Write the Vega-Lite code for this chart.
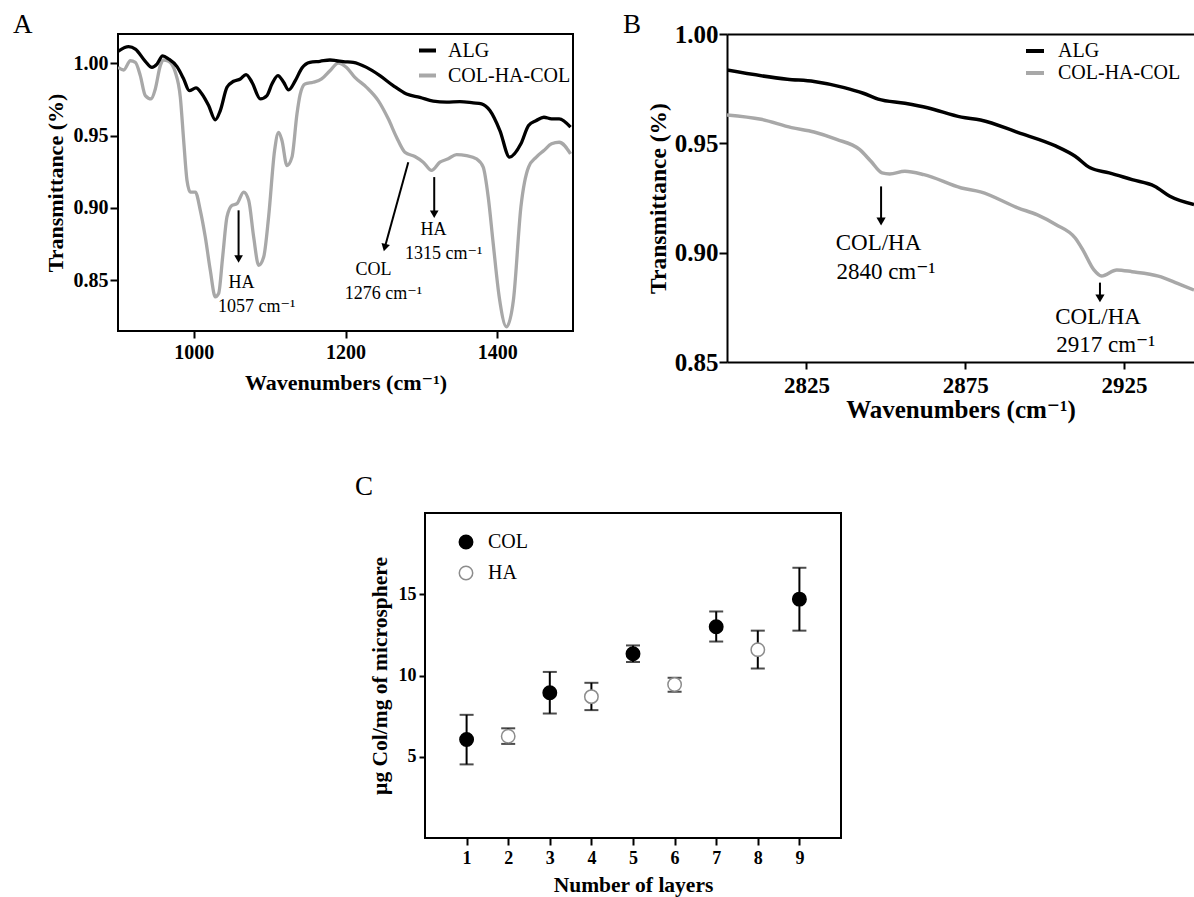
{
"$schema": "https://vega.github.io/schema/vega-lite/v6.json",
"background": "white",
"autosize": {"type": "pad"},
"padding": {"left": 11, "top": 10, "right": 0, "bottom": 0},
"config": {
  "font": "Liberation Serif, DejaVu Serif",
  "view": {"stroke": "black", "strokeWidth": 2},
  "axis": {"labelFont": "Liberation Serif, DejaVu Serif", "titleFont": "Liberation Serif, DejaVu Serif", "labelFontWeight": "bold", "titleFontWeight": "bold", "labelColor": "black", "titleColor": "black", "tickColor": "black", "tickWidth": 2, "domain": false, "grid": false, "labelFlush": false, "labelOverlap": false, "labelBound": false},
  "legend": {"labelFont": "Liberation Serif, DejaVu Serif", "labelColor": "black", "padding": 0}
},
"datasets": {
  "specA": [
    {"s":"COL-HA-COL","x":900,"y":0.9972},{"s":"COL-HA-COL","x":907.5,"y":0.9954},{"s":"COL-HA-COL","x":916.3,"y":1.0018},{"s":"COL-HA-COL","x":922.9,"y":1.0007},{"s":"COL-HA-COL","x":929.4,"y":0.9915},{"s":"COL-HA-COL","x":936,"y":0.9777},{"s":"COL-HA-COL","x":943.9,"y":0.9754},{"s":"COL-HA-COL","x":949.2,"y":0.9823},{"s":"COL-HA-COL","x":955.8,"y":0.9984},{"s":"COL-HA-COL","x":960.2,"y":1.0023},{"s":"COL-HA-COL","x":966.8,"y":1.0014},{"s":"COL-HA-COL","x":975.6,"y":0.9938},{"s":"COL-HA-COL","x":982.2,"y":0.9765},{"s":"COL-HA-COL","x":986.6,"y":0.9466},{"s":"COL-HA-COL","x":991,"y":0.919},{"s":"COL-HA-COL","x":995.4,"y":0.9109},{"s":"COL-HA-COL","x":1002,"y":0.9109},{"s":"COL-HA-COL","x":1008.5,"y":0.8983},{"s":"COL-HA-COL","x":1015.1,"y":0.8798},{"s":"COL-HA-COL","x":1021.7,"y":0.8568},{"s":"COL-HA-COL","x":1028.3,"y":0.8384},{"s":"COL-HA-COL","x":1032.7,"y":0.8407},{"s":"COL-HA-COL","x":1038,"y":0.866},{"s":"COL-HA-COL","x":1043.7,"y":0.8937},{"s":"COL-HA-COL","x":1050.3,"y":0.9017},{"s":"COL-HA-COL","x":1056.9,"y":0.9029},{"s":"COL-HA-COL","x":1065.7,"y":0.9109},{"s":"COL-HA-COL","x":1072.3,"y":0.9052},{"s":"COL-HA-COL","x":1078.9,"y":0.8798},{"s":"COL-HA-COL","x":1085.5,"y":0.8603},{"s":"COL-HA-COL","x":1092.1,"y":0.866},{"s":"COL-HA-COL","x":1098.6,"y":0.8937},{"s":"COL-HA-COL","x":1106.5,"y":0.9397},{"s":"COL-HA-COL","x":1111.8,"y":0.9523},{"s":"COL-HA-COL","x":1116.2,"y":0.9466},{"s":"COL-HA-COL","x":1122.8,"y":0.9293},{"s":"COL-HA-COL","x":1129.4,"y":0.9351},{"s":"COL-HA-COL","x":1136,"y":0.965},{"s":"COL-HA-COL","x":1140,"y":0.978},{"s":"COL-HA-COL","x":1146.5,"y":0.9857},{"s":"COL-HA-COL","x":1157.5,"y":0.9869},{"s":"COL-HA-COL","x":1168.5,"y":0.9892},{"s":"COL-HA-COL","x":1179.5,"y":0.9949},{"s":"COL-HA-COL","x":1190.4,"y":1.0002},{"s":"COL-HA-COL","x":1201.4,"y":0.9972},{"s":"COL-HA-COL","x":1212.4,"y":0.9903},{"s":"COL-HA-COL","x":1227.8,"y":0.9834},{"s":"COL-HA-COL","x":1243.2,"y":0.9742},{"s":"COL-HA-COL","x":1256.4,"y":0.9616},{"s":"COL-HA-COL","x":1267.3,"y":0.9489},{"s":"COL-HA-COL","x":1278.3,"y":0.9385},{"s":"COL-HA-COL","x":1291.5,"y":0.9355},{"s":"COL-HA-COL","x":1302.5,"y":0.9316},{"s":"COL-HA-COL","x":1313.5,"y":0.9259},{"s":"COL-HA-COL","x":1324.5,"y":0.9316},{"s":"COL-HA-COL","x":1335.5,"y":0.9339},{"s":"COL-HA-COL","x":1346.4,"y":0.9369},{"s":"COL-HA-COL","x":1359.6,"y":0.9362},{"s":"COL-HA-COL","x":1372.8,"y":0.9339},{"s":"COL-HA-COL","x":1381.6,"y":0.9282},{"s":"COL-HA-COL","x":1388.2,"y":0.9075},{"s":"COL-HA-COL","x":1394.8,"y":0.8752},{"s":"COL-HA-COL","x":1402.7,"y":0.8384},{"s":"COL-HA-COL","x":1412.3,"y":0.8177},{"s":"COL-HA-COL","x":1421.4,"y":0.8361},{"s":"COL-HA-COL","x":1431.3,"y":0.9006},{"s":"COL-HA-COL","x":1441.4,"y":0.9282},{"s":"COL-HA-COL","x":1451.6,"y":0.9351},{"s":"COL-HA-COL","x":1461.6,"y":0.9397},{"s":"COL-HA-COL","x":1471.7,"y":0.9443},{"s":"COL-HA-COL","x":1481.8,"y":0.9454},{"s":"COL-HA-COL","x":1496.8,"y":0.9374},
    {"s":"ALG","x":900,"y":1.0083},{"s":"ALG","x":914,"y":1.0115},{"s":"ALG","x":922.9,"y":1.0099},{"s":"ALG","x":936,"y":1.0014},{"s":"ALG","x":944.8,"y":0.9972},{"s":"ALG","x":951.4,"y":0.9995},{"s":"ALG","x":958.9,"y":1.0051},{"s":"ALG","x":966.8,"y":1.003},{"s":"ALG","x":977.8,"y":0.9977},{"s":"ALG","x":986.6,"y":0.9892},{"s":"ALG","x":994,"y":0.9811},{"s":"ALG","x":1002.8,"y":0.983},{"s":"ALG","x":1010.7,"y":0.9788},{"s":"ALG","x":1019.5,"y":0.9708},{"s":"ALG","x":1028.3,"y":0.9609},{"s":"ALG","x":1034.9,"y":0.9673},{"s":"ALG","x":1043.7,"y":0.9834},{"s":"ALG","x":1052.5,"y":0.9876},{"s":"ALG","x":1061.3,"y":0.9892},{"s":"ALG","x":1068.8,"y":0.9922},{"s":"ALG","x":1076.7,"y":0.9869},{"s":"ALG","x":1087.7,"y":0.9754},{"s":"ALG","x":1096.4,"y":0.9777},{"s":"ALG","x":1103,"y":0.9857},{"s":"ALG","x":1110.9,"y":0.9915},{"s":"ALG","x":1118.4,"y":0.9869},{"s":"ALG","x":1125,"y":0.9816},{"s":"ALG","x":1133.8,"y":0.988},{"s":"ALG","x":1142.6,"y":0.9968},{"s":"ALG","x":1153.1,"y":1.0007},{"s":"ALG","x":1166.3,"y":1.0014},{"s":"ALG","x":1179.5,"y":1.0023},{"s":"ALG","x":1188.2,"y":1.0018},{"s":"ALG","x":1197,"y":1.0012},{"s":"ALG","x":1210.2,"y":1.0007},{"s":"ALG","x":1227.8,"y":0.9972},{"s":"ALG","x":1245.4,"y":0.9915},{"s":"ALG","x":1262.9,"y":0.9846},{"s":"ALG","x":1280.5,"y":0.9788},{"s":"ALG","x":1298.1,"y":0.9765},{"s":"ALG","x":1315.7,"y":0.9738},{"s":"ALG","x":1333.3,"y":0.9731},{"s":"ALG","x":1350.8,"y":0.9735},{"s":"ALG","x":1368.4,"y":0.9726},{"s":"ALG","x":1379.4,"y":0.9719},{"s":"ALG","x":1390.4,"y":0.9673},{"s":"ALG","x":1403.6,"y":0.9535},{"s":"ALG","x":1416.3,"y":0.9351},{"s":"ALG","x":1431.3,"y":0.9443},{"s":"ALG","x":1441.4,"y":0.957},{"s":"ALG","x":1451.6,"y":0.9604},{"s":"ALG","x":1461.6,"y":0.9627},{"s":"ALG","x":1471.7,"y":0.9616},{"s":"ALG","x":1481.8,"y":0.9616},{"s":"ALG","x":1496.8,"y":0.9558}
  ],
  "annAtext": [
    {"x":1063,"y":0.8477,"t":"HA"},{"x":1083,"y":0.8315,"t":"1057 cm⁻¹"},
    {"x":1237,"y":0.8568,"t":"COL"},{"x":1250,"y":0.8407,"t":"1276 cm⁻¹"},
    {"x":1316,"y":0.8845,"t":"HA"},{"x":1329.5,"y":0.8679,"t":"1315 cm⁻¹"}
  ],
  "annArule": [
    {"x":1059,"y":0.8983,"x2":1059,"y2":0.8646},
    {"x":1282.8,"y":0.9316,"x2":1251.8,"y2":0.8725},
    {"x":1317,"y":0.9213,"x2":1317,"y2":0.8956}
  ],
  "annAhead": [
    {"x":1059,"y":0.8646,"a":0},
    {"x":1251.8,"y":0.8725,"a":14.5},
    {"x":1317,"y":0.8956,"a":0}
  ],
  "specB": [
    {"s":"COL-HA-COL","x":2800,"y":0.963},{"s":"COL-HA-COL","x":2810.7,"y":0.961},{"s":"COL-HA-COL","x":2820.3,"y":0.9572},{"s":"COL-HA-COL","x":2827.4,"y":0.9552},{"s":"COL-HA-COL","x":2834.5,"y":0.9518},{"s":"COL-HA-COL","x":2841.7,"y":0.9472},{"s":"COL-HA-COL","x":2845.3,"y":0.9418},{"s":"COL-HA-COL","x":2848.8,"y":0.9365},{"s":"COL-HA-COL","x":2851.2,"y":0.936},{"s":"COL-HA-COL","x":2856,"y":0.9372},{"s":"COL-HA-COL","x":2862,"y":0.9357},{"s":"COL-HA-COL","x":2873.8,"y":0.9296},{"s":"COL-HA-COL","x":2879.8,"y":0.9278},{"s":"COL-HA-COL","x":2891.7,"y":0.9204},{"s":"COL-HA-COL","x":2897.7,"y":0.9173},{"s":"COL-HA-COL","x":2903.6,"y":0.9128},{"s":"COL-HA-COL","x":2909.6,"y":0.9067},{"s":"COL-HA-COL","x":2912,"y":0.9013},{"s":"COL-HA-COL","x":2915.5,"y":0.8921},{"s":"COL-HA-COL","x":2917.9,"y":0.8893},{"s":"COL-HA-COL","x":2922.7,"y":0.8921},{"s":"COL-HA-COL","x":2927.5,"y":0.8913},{"s":"COL-HA-COL","x":2935.8,"y":0.8893},{"s":"COL-HA-COL","x":2941.8,"y":0.886},{"s":"COL-HA-COL","x":2947,"y":0.8829},
    {"s":"ALG","x":2800,"y":0.9835},{"s":"ALG","x":2819,"y":0.9793},{"s":"ALG","x":2827.4,"y":0.9783},{"s":"ALG","x":2836.9,"y":0.9755},{"s":"ALG","x":2842.9,"y":0.9729},{"s":"ALG","x":2847.6,"y":0.9702},{"s":"ALG","x":2856,"y":0.9683},{"s":"ALG","x":2863.1,"y":0.9663},{"s":"ALG","x":2873.8,"y":0.962},{"s":"ALG","x":2879.8,"y":0.9607},{"s":"ALG","x":2891.7,"y":0.9549},{"s":"ALG","x":2903.6,"y":0.9487},{"s":"ALG","x":2909.6,"y":0.9441},{"s":"ALG","x":2914.3,"y":0.9388},{"s":"ALG","x":2920.3,"y":0.9365},{"s":"ALG","x":2927.5,"y":0.9334},{"s":"ALG","x":2934.6,"y":0.9304},{"s":"ALG","x":2939.4,"y":0.9258},{"s":"ALG","x":2947,"y":0.922}
  ],
  "annBtext": [
    {"x":2847.7,"y":0.9046,"t":"COL/HA"},{"x":2850,"y":0.8913,"t":"2840 cm⁻¹"},
    {"x":2916.8,"y":0.8707,"t":"COL/HA"},{"x":2919.2,"y":0.8577,"t":"2917 cm⁻¹"}
  ],
  "annBrule": [
    {"x":2848.5,"y":0.9303,"x2":2848.5,"y2":0.9143},
    {"x":2917.4,"y":0.8863,"x2":2917.4,"y2":0.8791}
  ],
  "annBhead": [
    {"x":2848.5,"y":0.9143,"a":0},
    {"x":2917.4,"y":0.8791,"a":0}
  ],
  "layersC": [
    {"n":1,"v":6.06,"lo":4.53,"hi":7.58,"g":"COL"},
    {"n":2,"v":6.26,"lo":5.79,"hi":6.75,"g":"HA"},
    {"n":3,"v":8.94,"lo":7.66,"hi":10.22,"g":"COL"},
    {"n":4,"v":8.70,"lo":7.87,"hi":9.55,"g":"HA"},
    {"n":5,"v":11.34,"lo":10.83,"hi":11.85,"g":"COL"},
    {"n":6,"v":9.45,"lo":9.0,"hi":9.86,"g":"HA"},
    {"n":7,"v":13.0,"lo":12.09,"hi":13.94,"g":"COL"},
    {"n":8,"v":11.59,"lo":10.43,"hi":12.76,"g":"HA"},
    {"n":9,"v":14.7,"lo":12.76,"hi":16.63,"g":"COL"}
  ],
  "spacer": [{"k": 1}]
},
"resolve": {"scale": {"color": "independent", "fill": "independent", "stroke": "independent"}, "legend": {"color": "independent", "fill": "independent", "stroke": "independent"}},
"bounds": "full",
"spacing": 49,
"vconcat": [
  {
    "bounds": "flush",
    "spacing": 154,
    "resolve": {"scale": {"color": "independent"}, "legend": {"color": "independent"}},
    "hconcat": [
      {
        "width": 455, "height": 297,
        "layer": [
          {
            "data": {"name": "specA"},
            "mark": {"type": "line", "strokeWidth": 3.3, "clip": true, "interpolate": "monotone"},
            "encoding": {
              "x": {"field": "x", "type": "quantitative", "scale": {"domain": [900, 1500], "nice": false, "zero": false},
                    "axis": {"values": [1000, 1200, 1400], "format": "d", "title": "Wavenumbers (cm⁻¹)", "labelFontSize": 20, "titleFontSize": 22, "tickSize": 7, "labelPadding": 4, "titlePadding": 10}},
              "y": {"field": "y", "type": "quantitative", "scale": {"domain": [0.8148, 1.0203], "nice": false, "zero": false},
                    "axis": {"values": [0.85, 0.9, 0.95, 1.0], "format": ".2f", "title": "Transmittance (%)", "labelFontSize": 20, "titleFontSize": 22, "tickSize": 8, "labelPadding": 2, "titlePadding": 6}},
              "color": {"field": "s", "type": "nominal",
                        "scale": {"domain": ["ALG", "COL-HA-COL"], "range": ["#000000", "#a8a8a8"]},
                        "legend": {"title": null, "orient": "none", "legendX": 299, "legendY": 6, "symbolType": "stroke", "symbolSize": 289, "symbolStrokeWidth": 4, "labelFontSize": 20, "labelOffset": 10, "rowPadding": 4}}
            }
          },
          {
            "data": {"name": "annArule"},
            "mark": {"type": "rule", "strokeWidth": 2, "color": "black"},
            "encoding": {"x": {"field": "x", "type": "quantitative"}, "y": {"field": "y", "type": "quantitative"}, "x2": {"field": "x2"}, "y2": {"field": "y2"}}
          },
          {
            "data": {"name": "annAhead"},
            "mark": {"type": "point", "shape": "triangle-down", "filled": true, "color": "black", "size": 75, "opacity": 1},
            "encoding": {"x": {"field": "x", "type": "quantitative"}, "y": {"field": "y", "type": "quantitative"}, "angle": {"field": "a", "type": "quantitative", "scale": null}}
          },
          {
            "data": {"name": "annAtext"},
            "mark": {"type": "text", "fontSize": 18, "color": "black", "baseline": "middle", "align": "center"},
            "encoding": {"x": {"field": "x", "type": "quantitative"}, "y": {"field": "y", "type": "quantitative"}, "text": {"field": "t"}}
          },
          {
            "data": {"values": [{"k": "A"}]},
            "mark": {"type": "text", "fontSize": 27, "color": "black", "baseline": "alphabetic", "align": "left", "clip": false},
            "encoding": {"x": {"datum": 761.5, "type": "quantitative"}, "y": {"datum": 1.0207, "type": "quantitative"}, "text": {"field": "k"}}
          }
        ]
      },
      {
        "width": 467, "height": 328,
        "view": {"stroke": null},
        "resolve": {"axis": {"x": "independent"}},
        "layer": [
          {
            "data": {"name": "specB"},
            "mark": {"type": "line", "strokeWidth": 3.5, "clip": true, "interpolate": "monotone"},
            "encoding": {
              "x": {"field": "x", "type": "quantitative", "scale": {"domain": [2800, 2947], "nice": false, "zero": false},
                    "axis": {"orient": "bottom", "values": [2825, 2875, 2925], "format": "d", "title": "Wavenumbers (cm⁻¹)", "labelFontSize": 23, "titleFontSize": 25, "tickSize": 7, "labelPadding": 5, "titlePadding": 0, "domain": true, "domainWidth": 2, "domainColor": "black"}},
              "y": {"field": "y", "type": "quantitative", "scale": {"domain": [0.85, 1.0], "nice": false, "zero": false},
                    "axis": {"values": [0.85, 0.9, 0.95, 1.0], "format": ".2f", "title": "Transmittance (%)", "labelFontSize": 25, "titleFontSize": 23.5, "tickSize": 8, "labelPadding": 1, "titlePadding": 4, "domain": true, "domainWidth": 2, "domainColor": "black"}},
              "color": {"field": "s", "type": "nominal",
                        "scale": {"domain": ["ALG", "COL-HA-COL"], "range": ["#000000", "#a8a8a8"]},
                        "legend": {"title": null, "orient": "none", "legendX": 297, "legendY": 6, "symbolType": "stroke", "symbolSize": 324, "symbolStrokeWidth": 4, "labelFontSize": 20, "labelOffset": 12, "rowPadding": 1}}
            }
          },
          {
            "data": {"name": "annBrule"},
            "mark": {"type": "rule", "strokeWidth": 2, "color": "black"},
            "encoding": {"x": {"field": "x", "type": "quantitative", "axis": null}, "y": {"field": "y", "type": "quantitative"}, "x2": {"field": "x2"}, "y2": {"field": "y2"}}
          },
          {
            "data": {"name": "annBhead"},
            "mark": {"type": "point", "shape": "triangle-down", "filled": true, "color": "black", "size": 85, "opacity": 1},
            "encoding": {"x": {"field": "x", "type": "quantitative", "axis": null}, "y": {"field": "y", "type": "quantitative"}, "angle": {"field": "a", "type": "quantitative", "scale": null}}
          },
          {
            "data": {"name": "annBtext"},
            "mark": {"type": "text", "fontSize": 23, "color": "black", "baseline": "middle", "align": "center"},
            "encoding": {"x": {"field": "x", "type": "quantitative", "axis": null}, "y": {"field": "y", "type": "quantitative"}, "text": {"field": "t"}}
          },
          {
            "data": {"values": [{"k": "B"}]},
            "mark": {"type": "text", "fontSize": 27, "color": "black", "baseline": "alphabetic", "align": "left", "clip": false},
            "encoding": {"x": {"datum": 2767.3, "type": "quantitative", "axis": {"orient": "top", "labels": false, "ticks": false, "title": null, "domain": true, "domainWidth": 2, "domainColor": "black"}}, "y": {"datum": 1.0005, "type": "quantitative"}, "text": {"field": "k"}}
          }
        ]
      }
    ]
  },
  {
    "bounds": "flush",
    "spacing": 107,
    "resolve": {"scale": {"fill": "independent", "stroke": "independent"}, "legend": {"fill": "independent", "stroke": "independent"}},
    "hconcat": [
      {
        "data": {"name": "spacer"},
        "width": 200, "height": 10,
        "view": {"stroke": null},
        "mark": {"type": "point", "opacity": 0},
        "encoding": {}
      },
      {
        "width": 416, "height": 325,
        "data": {"name": "layersC"},
        "layer": [
          {
            "mark": {"type": "rule", "strokeWidth": 2, "color": "black"},
            "encoding": {
              "x": {"field": "n", "type": "quantitative", "scale": {"domain": [0, 10], "nice": false, "zero": false},
                    "axis": {"values": [1, 2, 3, 4, 5, 6, 7, 8, 9], "format": "d", "title": "Number of layers", "labelFontSize": 18, "titleFontSize": 21.5, "tickSize": 7, "labelPadding": 4, "titlePadding": 7}},
              "y": {"field": "lo", "type": "quantitative", "scale": {"domain": [0, 20], "nice": false, "zero": false},
                    "axis": {"values": [5, 10, 15], "format": "d", "title": "µg Col/mg of microsphere", "labelFontSize": 18, "titleFontSize": 21.5, "tickSize": 6, "labelPadding": 3, "titlePadding": 7}},
              "y2": {"field": "hi"}
            }
          },
          {
            "mark": {"type": "tick", "orient": "horizontal", "size": 14, "thickness": 2, "color": "black"},
            "encoding": {"x": {"field": "n", "type": "quantitative"}, "y": {"field": "lo", "type": "quantitative"}}
          },
          {
            "mark": {"type": "tick", "orient": "horizontal", "size": 14, "thickness": 2, "color": "black"},
            "encoding": {"x": {"field": "n", "type": "quantitative"}, "y": {"field": "hi", "type": "quantitative"}}
          },
          {
            "mark": {"type": "point", "shape": "circle", "filled": true, "size": 180, "strokeWidth": 1.5, "opacity": 1},
            "encoding": {
              "x": {"field": "n", "type": "quantitative"},
              "y": {"field": "v", "type": "quantitative"},
              "fill": {"field": "g", "type": "nominal", "scale": {"domain": ["COL", "HA"], "range": ["#000000", "#ffffff"]},
                       "legend": {"title": null, "orient": "none", "legendX": 31, "legendY": 19, "labelFontSize": 20, "labelOffset": 12, "rowPadding": 11, "symbolSize": 180, "symbolStrokeWidth": 1.5}},
              "stroke": {"field": "g", "type": "nominal", "scale": {"domain": ["COL", "HA"], "range": ["#000000", "#8c8c8c"]},
                         "legend": {"title": null, "orient": "none", "legendX": 31, "legendY": 19, "labelFontSize": 20, "labelOffset": 12, "rowPadding": 11, "symbolSize": 180, "symbolStrokeWidth": 1.5}}
            }
          },
          {
            "data": {"values": [{"k": "C"}]},
            "mark": {"type": "text", "fontSize": 27, "color": "black", "baseline": "alphabetic", "align": "left", "clip": false},
            "encoding": {"x": {"datum": -1.683, "type": "quantitative"}, "y": {"datum": 21.108, "type": "quantitative"}, "text": {"field": "k"}}
          }
        ]
      }
    ]
  }
]
}
